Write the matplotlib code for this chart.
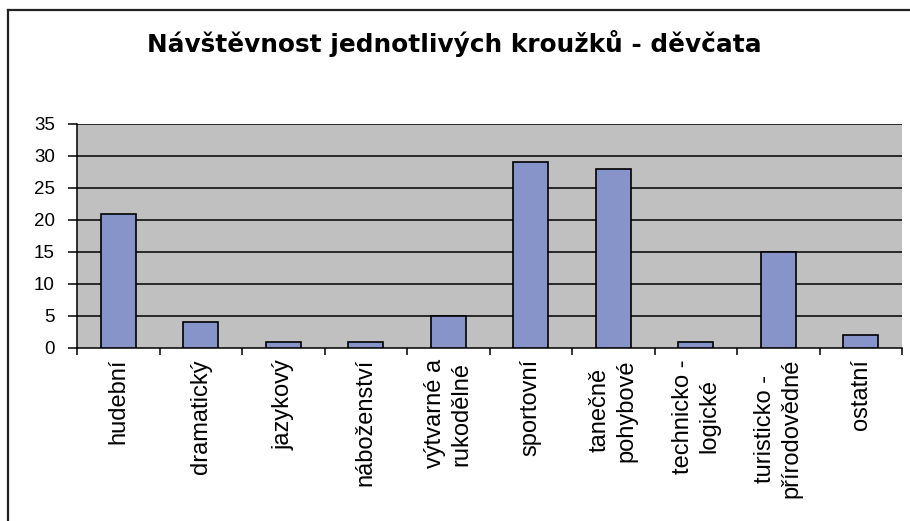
import matplotlib
matplotlib.use("Agg")
import matplotlib.pyplot as plt
from matplotlib.lines import Line2D

categories = ["hudební", "dramatický", "jazykový", "náboženství", "výtvarné a\nrukodělné",
              "sportovní", "tanečně\npohybové", "technicko -\nlogické",
              "turisticko -\npřírodovědné", "ostatní"]
values = [21, 4, 1, 1, 5, 29, 28, 1, 15, 2]
yticks = [0, 5, 10, 15, 20, 25, 30, 35]
title = "Návštěvnost jednotlivých kroužků - děvčata"

plt.rcParams['font.family'] = ['Liberation Sans', 'DejaVu Sans']

W, H = 910, 521
fig = plt.figure(figsize=(W/100, H/100), dpi=100)
ax = fig.add_axes([77/W, 1-348/H, (902-77)/W, (348-124)/H])
ax.set_facecolor('#C0C0C0')

x = list(range(len(categories)))
ax.bar(x, values, width=0.42, color='#8794CA', edgecolor='black', linewidth=1.2, zorder=3)

ax.set_ylim(0, 35)
ax.set_xlim(-0.5, len(categories)-0.5)
ax.set_yticks(yticks)
ax.set_yticklabels([str(v) for v in yticks], fontsize=13.5)
for v in yticks[1:]:
    ax.axhline(v, color='black', linewidth=1.1, zorder=2)

ax.set_xticks([i - 0.5 for i in range(len(categories) + 1)], minor=False)
ax.set_xticklabels([])
ax.set_xticks(x, minor=True)
ax.set_xticklabels(categories, minor=True, rotation=90, fontsize=17,
                   va='top', ha='center', multialignment='center', linespacing=1.25)
ax.tick_params(axis='x', which='minor', length=0, pad=8)
ax.tick_params(axis='x', which='major', length=5, width=1.1, direction='out')
ax.tick_params(axis='y', length=6.5, width=1.1, direction='out', pad=9.5)

for s in ['top', 'right']:
    ax.spines[s].set_visible(False)
ax.spines['left'].set_linewidth(1.1)
ax.spines['bottom'].set_linewidth(1.1)

fig.text(454/W, 1-52/H, title, ha='center', va='baseline', fontsize=17.8,
         fontweight='bold', family=['DejaVu Sans'])

fig.lines.append(Line2D([8/W, 1.0], [1-10/H, 1-10/H], transform=fig.transFigure,
                        color='#222222', linewidth=1.6))
fig.lines.append(Line2D([8/W, 8/W], [1-10/H, 0.0], transform=fig.transFigure,
                        color='#222222', linewidth=1.6))

fig.savefig("out.png", dpi=100)
